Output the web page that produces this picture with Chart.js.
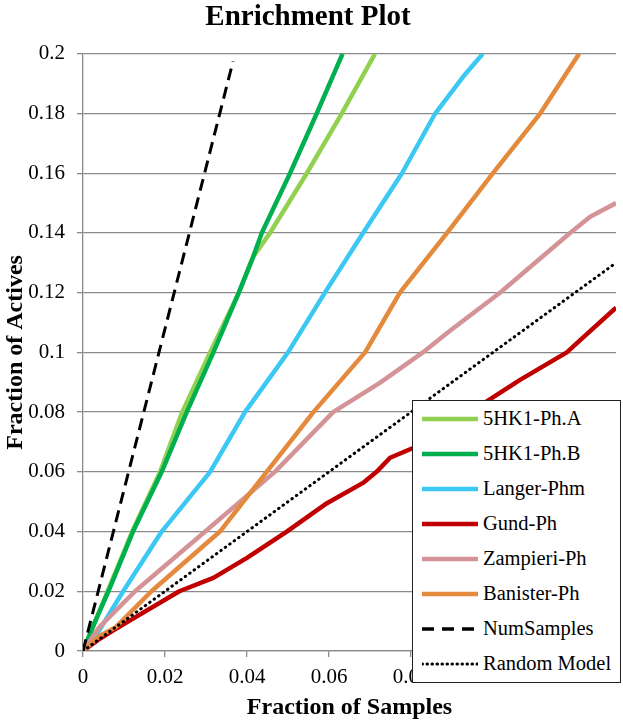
<!DOCTYPE html>
<html>
<head>
<meta charset="utf-8">
<script src="https://cdn.jsdelivr.net/npm/chart.js@4"></script>
<style>
  body { margin: 0; background: #fff; }
  #wrap { position: relative; width: 623px; height: 724px; }
  #legend {
    position: absolute; left: 412px; top: 400px; width: 209px; height: 283px;
    box-sizing: border-box; border: 1px solid #222; background: #fff;
    font-family: "Liberation Serif", serif; font-size: 20.5px; color: #000;
  }
  .row { display: flex; align-items: center; height: 35px; }
  .row svg { margin-left: 9px; width: 56px; height: 8px; }
  .row span { margin-left: 5px; white-space: nowrap; }
</style>
</head>
<body>
<div id="wrap">
  <canvas id="enrich" width="623" height="724"></canvas>
  <div id="legend"></div>
</div>
<script>
// series names + colours (legend order)
var names = ['5HK1-Ph.A', '5HK1-Ph.B', 'Langer-Phm', 'Gund-Ph', 'Zampieri-Ph', 'Banister-Ph', 'NumSamples', 'Random Model'];
var colors = ['#92d050', '#00b050', '#3cc8f5', '#c00000', '#d49497', '#e48a3c', '#000000', '#000000'];

// values (fraction of samples -> fraction of actives)
var phaX = [0, 0.003, 0.006, 0.012, 0.0188, 0.0242, 0.031, 0.038, 0.0415, 0.0456, 0.0546, 0.0631, 0.0712];
var phaY = [0, 0.01, 0.02, 0.04, 0.06, 0.08, 0.1, 0.12, 0.132, 0.14, 0.16, 0.18, 0.2];
var phbX = [0, 0.003, 0.0062, 0.0122, 0.0192, 0.0253, 0.0318, 0.038, 0.0415, 0.0436, 0.0505, 0.057, 0.0633];
var phbY = [0, 0.01, 0.02, 0.04, 0.06, 0.08, 0.1, 0.12, 0.132, 0.14, 0.16, 0.18, 0.2];
var langerX = [0, 0.004, 0.0098, 0.0192, 0.031, 0.0395, 0.05, 0.059, 0.0683, 0.0778, 0.0859, 0.0927, 0.0975];
var langerY = [0, 0.007, 0.02, 0.04, 0.06, 0.08, 0.1, 0.12, 0.14, 0.16, 0.18, 0.1923, 0.2];
var gundX = [0, 0.004, 0.0073, 0.0118, 0.0235, 0.0318, 0.04, 0.0497, 0.0595, 0.0683, 0.0716, 0.0749, 0.0805, 0.0944, 0.1066, 0.118, 0.1212, 0.13];
var gundY = [0, 0.004, 0.0068, 0.0105, 0.02, 0.0245, 0.0312, 0.04, 0.0495, 0.0563, 0.06, 0.0647, 0.068, 0.08, 0.0908, 0.1, 0.104, 0.115];
var zampX = [0, 0.004, 0.0127, 0.0298, 0.0468, 0.061, 0.0724, 0.0829, 0.0888, 0.1017, 0.1188, 0.1237, 0.13];
var zampY = [0, 0.008, 0.02, 0.04, 0.06, 0.08, 0.0898, 0.1, 0.1065, 0.12, 0.14, 0.1454, 0.15];
var banX = [0, 0.004, 0.008, 0.0167, 0.0334, 0.0448, 0.0562, 0.0688, 0.0773, 0.0888, 0.1, 0.1115, 0.121];
var banY = [0, 0.005, 0.008, 0.02, 0.04, 0.06, 0.08, 0.1, 0.12, 0.14, 0.16, 0.18, 0.2];
var numX = [0, 0.0366];
var numY = [0, 0.1975];
var randX = [0, 0.13];
var randY = [0, 0.13];

var xs = [phaX, phbX, langerX, gundX, zampX, banX, numX, randX];
var ys = [phaY, phbY, langerY, gundY, zampY, banY, numY, randY];
var dashes = [[], [], [], [], [], [], [12, 7], [0.5, 5]];

function pts(x, y) {
    var out = [];
    for (var i = 0; i < x.length; i++) out.push({x: x[i], y: y[i]});
    return out;
}

var datasets = [];
for (var i = 0; i < names.length; i++) {
    var dotted = i == 7;
    datasets.push({
        label: names[i],
        data: pts(xs[i], ys[i]),
        borderColor: colors[i],
        borderWidth: i >= 6 ? 3 : 4.5,
        borderDash: dashes[i],
        borderCapStyle: dotted ? 'round' : 'butt',
        borderJoinStyle: 'round',
        pointRadius: 0,
        showLine: true,
        fill: false,
        tension: 0,
        order: names.length - i   // later series on top
    });
}

var serif = 'Liberation Serif';
var gridCol = '#8a8a8a';

new Chart(document.getElementById('enrich'), {
    type: 'scatter',
    data: { datasets: datasets },
    options: {
        responsive: false,
        animation: false,
        devicePixelRatio: 1,
        layout: { padding: { left: 0, right: 7, top: 0, bottom: 0 } },
        plugins: {
            legend: { display: false },
            tooltip: { enabled: false },
            title: {
                display: true,
                text: 'Enrichment Plot',
                color: '#000',
                font: { family: serif, size: 29, weight: 'bold' },
                padding: { top: 0, bottom: 19 }
            }
        },
        scales: {
            x: {
                type: 'linear', min: 0, max: 0.13,
                afterFit: function (s) { s.height = 73; },
                grid: { drawOnChartArea: false, color: gridCol, lineWidth: 1.3, tickLength: 6 },
                border: { color: gridCol, width: 1.3 },
                ticks: {
                    stepSize: 0.02, includeBounds: false, autoSkip: false, maxRotation: 0,
                    color: '#000', padding: 8, font: { family: serif, size: 21 },
                    callback: function (v) { return +v.toFixed(2); }
                },
                title: {
                    display: true, text: 'Fraction of Samples', color: '#000',
                    font: { family: serif, size: 24, weight: 'bold' },
                    padding: { top: 0, bottom: 2 }
                }
            },
            y: {
                min: 0, max: 0.2,
                afterFit: function (s) { s.width = 83; },
                grid: { color: gridCol, lineWidth: 1.3, tickLength: 6 },
                border: { color: gridCol, width: 1.3 },
                ticks: {
                    stepSize: 0.02, color: '#000', padding: 12, font: { family: serif, size: 21 },
                    callback: function (v) { return +v.toFixed(2); }
                },
                title: {
                    display: true, text: 'Fraction of Actives', color: '#000',
                    font: { family: serif, size: 24, weight: 'bold' },
                    padding: { top: 1, bottom: 0 }
                }
            }
        }
    }
});

// legend box drawn over the plot like the original
var leg = document.getElementById('legend');
for (var j = 0; j < names.length; j++) {
    var row = document.createElement('div');
    row.className = 'row';
    var da = '';
    var cap = 'butt';
    var w = 4.5;
    if (j == 6) { da = '12 8'; w = 3.5; }
    if (j == 7) { da = '0.5 4.5'; cap = 'round'; w = 3; }
    row.innerHTML = '<svg viewBox="0 0 56 8"><line x1="0" y1="4" x2="56" y2="4" stroke="' + colors[j] +
        '" stroke-width="' + w + '" stroke-linecap="' + cap + '"' + (da ? ' stroke-dasharray="' + da + '"' : '') + '/></svg>';
    var sp = document.createElement('span');
    sp.textContent = names[j];
    row.appendChild(sp);
    leg.appendChild(row);
}
</script>
</body>
</html>
